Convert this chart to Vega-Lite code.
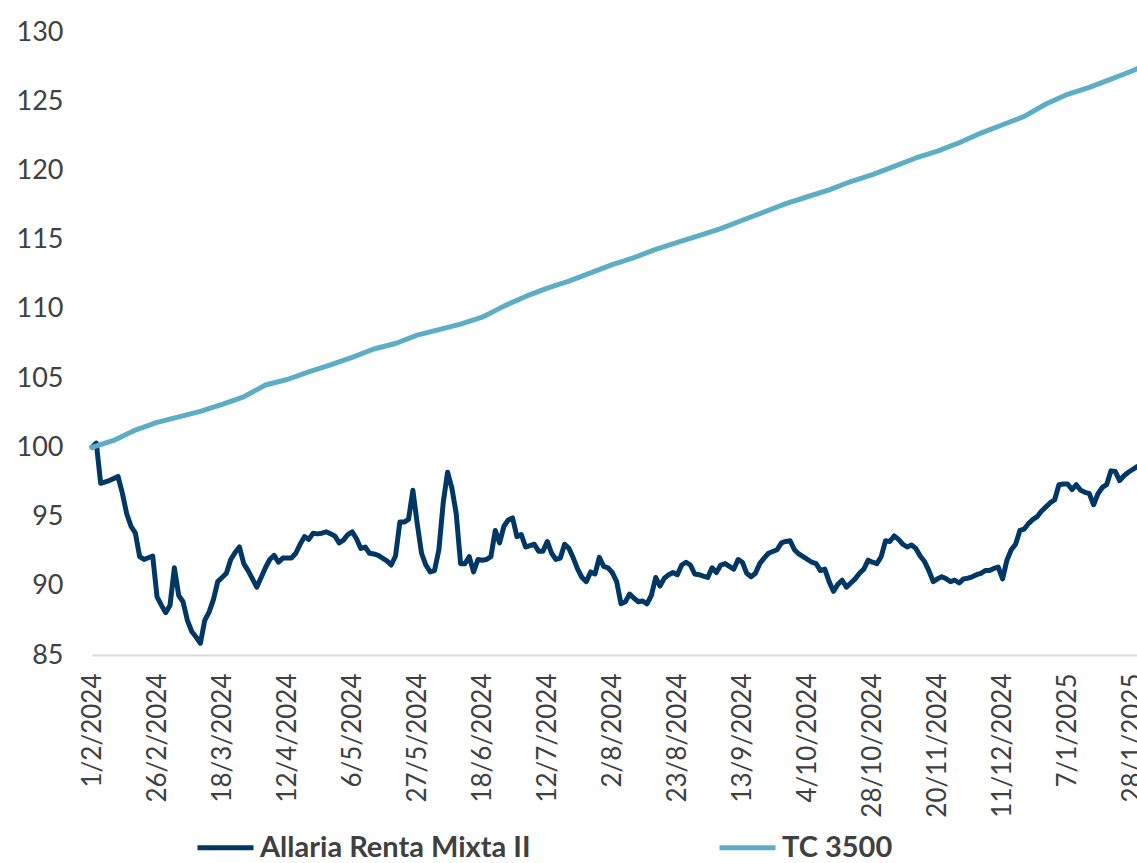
{
  "$schema": "https://vega.github.io/schema/vega-lite/v6.json",
  "width": 1045,
  "height": 623,
  "autosize": {"type": "none"},
  "padding": {"left": 92, "top": 32, "right": 0, "bottom": 208},
  "background": "white",
  "config": {"view": {"stroke": null}, "font": "Lato"},
  "data": {"values": [
{"s":"Allaria Renta Mixta II","i":0,"v":100.0},{"s":"Allaria Renta Mixta II","i":1,"v":100.3},{"s":"Allaria Renta Mixta II","i":2,"v":97.4},{"s":"Allaria Renta Mixta II","i":4,"v":97.6},{"s":"Allaria Renta Mixta II","i":6,"v":97.9},{"s":"Allaria Renta Mixta II","i":7,"v":96.7},{"s":"Allaria Renta Mixta II","i":8,"v":95.2},{"s":"Allaria Renta Mixta II","i":9,"v":94.3},{"s":"Allaria Renta Mixta II","i":10,"v":93.8},{"s":"Allaria Renta Mixta II","i":11,"v":92.1},{"s":"Allaria Renta Mixta II","i":12,"v":91.9},{"s":"Allaria Renta Mixta II","i":14,"v":92.15},{"s":"Allaria Renta Mixta II","i":15,"v":89.2},{"s":"Allaria Renta Mixta II","i":16,"v":88.6},{"s":"Allaria Renta Mixta II","i":17,"v":88.06},{"s":"Allaria Renta Mixta II","i":18,"v":88.6},{"s":"Allaria Renta Mixta II","i":19,"v":91.3},{"s":"Allaria Renta Mixta II","i":20,"v":89.3},{"s":"Allaria Renta Mixta II","i":21,"v":88.85},{"s":"Allaria Renta Mixta II","i":22,"v":87.5},{"s":"Allaria Renta Mixta II","i":23,"v":86.7},{"s":"Allaria Renta Mixta II","i":24,"v":86.3},{"s":"Allaria Renta Mixta II","i":25,"v":85.85},{"s":"Allaria Renta Mixta II","i":26,"v":87.5},{"s":"Allaria Renta Mixta II","i":27,"v":88.1},{"s":"Allaria Renta Mixta II","i":28,"v":89.0},{"s":"Allaria Renta Mixta II","i":29,"v":90.3},{"s":"Allaria Renta Mixta II","i":30,"v":90.6},{"s":"Allaria Renta Mixta II","i":31,"v":90.9},{"s":"Allaria Renta Mixta II","i":32,"v":91.9},{"s":"Allaria Renta Mixta II","i":33,"v":92.4},{"s":"Allaria Renta Mixta II","i":34,"v":92.8},{"s":"Allaria Renta Mixta II","i":35,"v":91.6},{"s":"Allaria Renta Mixta II","i":36,"v":91.1},{"s":"Allaria Renta Mixta II","i":37,"v":90.5},{"s":"Allaria Renta Mixta II","i":38,"v":89.9},{"s":"Allaria Renta Mixta II","i":39,"v":90.6},{"s":"Allaria Renta Mixta II","i":40,"v":91.3},{"s":"Allaria Renta Mixta II","i":41,"v":91.9},{"s":"Allaria Renta Mixta II","i":42,"v":92.2},{"s":"Allaria Renta Mixta II","i":43,"v":91.7},{"s":"Allaria Renta Mixta II","i":44,"v":92.0},{"s":"Allaria Renta Mixta II","i":45,"v":92.0},{"s":"Allaria Renta Mixta II","i":46,"v":92.0},{"s":"Allaria Renta Mixta II","i":47,"v":92.35},{"s":"Allaria Renta Mixta II","i":48,"v":93.0},{"s":"Allaria Renta Mixta II","i":49,"v":93.55},{"s":"Allaria Renta Mixta II","i":50,"v":93.35},{"s":"Allaria Renta Mixta II","i":51,"v":93.8},{"s":"Allaria Renta Mixta II","i":52,"v":93.75},{"s":"Allaria Renta Mixta II","i":53,"v":93.8},{"s":"Allaria Renta Mixta II","i":54,"v":93.9},{"s":"Allaria Renta Mixta II","i":55,"v":93.75},{"s":"Allaria Renta Mixta II","i":56,"v":93.6},{"s":"Allaria Renta Mixta II","i":57,"v":93.1},{"s":"Allaria Renta Mixta II","i":58,"v":93.3},{"s":"Allaria Renta Mixta II","i":59,"v":93.7},{"s":"Allaria Renta Mixta II","i":60,"v":93.9},{"s":"Allaria Renta Mixta II","i":61,"v":93.4},{"s":"Allaria Renta Mixta II","i":62,"v":92.7},{"s":"Allaria Renta Mixta II","i":63,"v":92.8},{"s":"Allaria Renta Mixta II","i":64,"v":92.35},{"s":"Allaria Renta Mixta II","i":65,"v":92.3},{"s":"Allaria Renta Mixta II","i":66,"v":92.2},{"s":"Allaria Renta Mixta II","i":67,"v":92.0},{"s":"Allaria Renta Mixta II","i":68,"v":91.8},{"s":"Allaria Renta Mixta II","i":69,"v":91.5},{"s":"Allaria Renta Mixta II","i":70,"v":92.15},{"s":"Allaria Renta Mixta II","i":71,"v":94.6},{"s":"Allaria Renta Mixta II","i":72,"v":94.6},{"s":"Allaria Renta Mixta II","i":73,"v":94.8},{"s":"Allaria Renta Mixta II","i":74,"v":96.9},{"s":"Allaria Renta Mixta II","i":75,"v":94.5},{"s":"Allaria Renta Mixta II","i":76,"v":92.35},{"s":"Allaria Renta Mixta II","i":77,"v":91.5},{"s":"Allaria Renta Mixta II","i":78,"v":91.0},{"s":"Allaria Renta Mixta II","i":79,"v":91.1},{"s":"Allaria Renta Mixta II","i":80,"v":92.6},{"s":"Allaria Renta Mixta II","i":81,"v":96.0},{"s":"Allaria Renta Mixta II","i":82,"v":98.2},{"s":"Allaria Renta Mixta II","i":83,"v":97.05},{"s":"Allaria Renta Mixta II","i":84,"v":95.2},{"s":"Allaria Renta Mixta II","i":85,"v":91.6},{"s":"Allaria Renta Mixta II","i":86,"v":91.6},{"s":"Allaria Renta Mixta II","i":87,"v":92.1},{"s":"Allaria Renta Mixta II","i":88,"v":91.0},{"s":"Allaria Renta Mixta II","i":89,"v":91.9},{"s":"Allaria Renta Mixta II","i":90,"v":91.85},{"s":"Allaria Renta Mixta II","i":91,"v":91.9},{"s":"Allaria Renta Mixta II","i":92,"v":92.1},{"s":"Allaria Renta Mixta II","i":93,"v":94.0},{"s":"Allaria Renta Mixta II","i":94,"v":93.1},{"s":"Allaria Renta Mixta II","i":95,"v":94.3},{"s":"Allaria Renta Mixta II","i":96,"v":94.75},{"s":"Allaria Renta Mixta II","i":97,"v":94.9},{"s":"Allaria Renta Mixta II","i":98,"v":93.55},{"s":"Allaria Renta Mixta II","i":99,"v":93.7},{"s":"Allaria Renta Mixta II","i":100,"v":92.8},{"s":"Allaria Renta Mixta II","i":101,"v":92.9},{"s":"Allaria Renta Mixta II","i":102,"v":93.0},{"s":"Allaria Renta Mixta II","i":103,"v":92.5},{"s":"Allaria Renta Mixta II","i":104,"v":92.5},{"s":"Allaria Renta Mixta II","i":105,"v":93.2},{"s":"Allaria Renta Mixta II","i":106,"v":92.35},{"s":"Allaria Renta Mixta II","i":107,"v":91.9},{"s":"Allaria Renta Mixta II","i":108,"v":92.0},{"s":"Allaria Renta Mixta II","i":109,"v":93.0},{"s":"Allaria Renta Mixta II","i":110,"v":92.7},{"s":"Allaria Renta Mixta II","i":111,"v":92.0},{"s":"Allaria Renta Mixta II","i":112,"v":91.2},{"s":"Allaria Renta Mixta II","i":113,"v":90.6},{"s":"Allaria Renta Mixta II","i":114,"v":90.3},{"s":"Allaria Renta Mixta II","i":115,"v":91.0},{"s":"Allaria Renta Mixta II","i":116,"v":90.85},{"s":"Allaria Renta Mixta II","i":117,"v":92.05},{"s":"Allaria Renta Mixta II","i":118,"v":91.4},{"s":"Allaria Renta Mixta II","i":119,"v":91.3},{"s":"Allaria Renta Mixta II","i":120,"v":90.95},{"s":"Allaria Renta Mixta II","i":121,"v":90.3},{"s":"Allaria Renta Mixta II","i":122,"v":88.7},{"s":"Allaria Renta Mixta II","i":123,"v":88.85},{"s":"Allaria Renta Mixta II","i":124,"v":89.4},{"s":"Allaria Renta Mixta II","i":125,"v":89.1},{"s":"Allaria Renta Mixta II","i":126,"v":88.85},{"s":"Allaria Renta Mixta II","i":127,"v":88.9},{"s":"Allaria Renta Mixta II","i":128,"v":88.7},{"s":"Allaria Renta Mixta II","i":129,"v":89.3},{"s":"Allaria Renta Mixta II","i":130,"v":90.6},{"s":"Allaria Renta Mixta II","i":131,"v":89.98},{"s":"Allaria Renta Mixta II","i":132,"v":90.55},{"s":"Allaria Renta Mixta II","i":133,"v":90.8},{"s":"Allaria Renta Mixta II","i":134,"v":90.95},{"s":"Allaria Renta Mixta II","i":135,"v":90.8},{"s":"Allaria Renta Mixta II","i":136,"v":91.5},{"s":"Allaria Renta Mixta II","i":137,"v":91.7},{"s":"Allaria Renta Mixta II","i":138,"v":91.5},{"s":"Allaria Renta Mixta II","i":139,"v":90.85},{"s":"Allaria Renta Mixta II","i":140,"v":90.8},{"s":"Allaria Renta Mixta II","i":141,"v":90.7},{"s":"Allaria Renta Mixta II","i":142,"v":90.6},{"s":"Allaria Renta Mixta II","i":143,"v":91.3},{"s":"Allaria Renta Mixta II","i":144,"v":90.95},{"s":"Allaria Renta Mixta II","i":145,"v":91.5},{"s":"Allaria Renta Mixta II","i":146,"v":91.6},{"s":"Allaria Renta Mixta II","i":147,"v":91.4},{"s":"Allaria Renta Mixta II","i":148,"v":91.2},{"s":"Allaria Renta Mixta II","i":149,"v":91.9},{"s":"Allaria Renta Mixta II","i":150,"v":91.7},{"s":"Allaria Renta Mixta II","i":151,"v":90.9},{"s":"Allaria Renta Mixta II","i":152,"v":90.65},{"s":"Allaria Renta Mixta II","i":153,"v":90.9},{"s":"Allaria Renta Mixta II","i":154,"v":91.6},{"s":"Allaria Renta Mixta II","i":155,"v":92.0},{"s":"Allaria Renta Mixta II","i":156,"v":92.35},{"s":"Allaria Renta Mixta II","i":158,"v":92.6},{"s":"Allaria Renta Mixta II","i":159,"v":93.1},{"s":"Allaria Renta Mixta II","i":160,"v":93.2},{"s":"Allaria Renta Mixta II","i":161,"v":93.25},{"s":"Allaria Renta Mixta II","i":162,"v":92.6},{"s":"Allaria Renta Mixta II","i":163,"v":92.3},{"s":"Allaria Renta Mixta II","i":164,"v":92.1},{"s":"Allaria Renta Mixta II","i":166,"v":91.7},{"s":"Allaria Renta Mixta II","i":167,"v":91.6},{"s":"Allaria Renta Mixta II","i":168,"v":91.1},{"s":"Allaria Renta Mixta II","i":169,"v":91.2},{"s":"Allaria Renta Mixta II","i":170,"v":90.3},{"s":"Allaria Renta Mixta II","i":171,"v":89.6},{"s":"Allaria Renta Mixta II","i":172,"v":90.1},{"s":"Allaria Renta Mixta II","i":173,"v":90.4},{"s":"Allaria Renta Mixta II","i":174,"v":89.9},{"s":"Allaria Renta Mixta II","i":175,"v":90.2},{"s":"Allaria Renta Mixta II","i":176,"v":90.5},{"s":"Allaria Renta Mixta II","i":177,"v":90.9},{"s":"Allaria Renta Mixta II","i":178,"v":91.2},{"s":"Allaria Renta Mixta II","i":179,"v":91.85},{"s":"Allaria Renta Mixta II","i":180,"v":91.7},{"s":"Allaria Renta Mixta II","i":181,"v":91.6},{"s":"Allaria Renta Mixta II","i":182,"v":92.1},{"s":"Allaria Renta Mixta II","i":183,"v":93.25},{"s":"Allaria Renta Mixta II","i":184,"v":93.2},{"s":"Allaria Renta Mixta II","i":185,"v":93.6},{"s":"Allaria Renta Mixta II","i":186,"v":93.35},{"s":"Allaria Renta Mixta II","i":187,"v":93.0},{"s":"Allaria Renta Mixta II","i":188,"v":92.8},{"s":"Allaria Renta Mixta II","i":189,"v":92.95},{"s":"Allaria Renta Mixta II","i":190,"v":92.7},{"s":"Allaria Renta Mixta II","i":191,"v":92.15},{"s":"Allaria Renta Mixta II","i":192,"v":91.75},{"s":"Allaria Renta Mixta II","i":193,"v":91.1},{"s":"Allaria Renta Mixta II","i":194,"v":90.3},{"s":"Allaria Renta Mixta II","i":195,"v":90.5},{"s":"Allaria Renta Mixta II","i":196,"v":90.65},{"s":"Allaria Renta Mixta II","i":197,"v":90.5},{"s":"Allaria Renta Mixta II","i":198,"v":90.3},{"s":"Allaria Renta Mixta II","i":199,"v":90.4},{"s":"Allaria Renta Mixta II","i":200,"v":90.2},{"s":"Allaria Renta Mixta II","i":201,"v":90.5},{"s":"Allaria Renta Mixta II","i":202,"v":90.55},{"s":"Allaria Renta Mixta II","i":203,"v":90.65},{"s":"Allaria Renta Mixta II","i":204,"v":90.8},{"s":"Allaria Renta Mixta II","i":205,"v":90.9},{"s":"Allaria Renta Mixta II","i":206,"v":91.1},{"s":"Allaria Renta Mixta II","i":207,"v":91.1},{"s":"Allaria Renta Mixta II","i":208,"v":91.25},{"s":"Allaria Renta Mixta II","i":209,"v":91.35},{"s":"Allaria Renta Mixta II","i":210,"v":90.5},{"s":"Allaria Renta Mixta II","i":211,"v":91.85},{"s":"Allaria Renta Mixta II","i":212,"v":92.6},{"s":"Allaria Renta Mixta II","i":213,"v":93.0},{"s":"Allaria Renta Mixta II","i":214,"v":94.0},{"s":"Allaria Renta Mixta II","i":215,"v":94.1},{"s":"Allaria Renta Mixta II","i":216,"v":94.5},{"s":"Allaria Renta Mixta II","i":217,"v":94.8},{"s":"Allaria Renta Mixta II","i":218,"v":95.0},{"s":"Allaria Renta Mixta II","i":219,"v":95.4},{"s":"Allaria Renta Mixta II","i":220,"v":95.7},{"s":"Allaria Renta Mixta II","i":221,"v":96.0},{"s":"Allaria Renta Mixta II","i":222,"v":96.2},{"s":"Allaria Renta Mixta II","i":223,"v":97.3},{"s":"Allaria Renta Mixta II","i":224,"v":97.35},{"s":"Allaria Renta Mixta II","i":225,"v":97.35},{"s":"Allaria Renta Mixta II","i":226,"v":96.95},{"s":"Allaria Renta Mixta II","i":227,"v":97.3},{"s":"Allaria Renta Mixta II","i":228,"v":96.9},{"s":"Allaria Renta Mixta II","i":229,"v":96.75},{"s":"Allaria Renta Mixta II","i":230,"v":96.65},{"s":"Allaria Renta Mixta II","i":231,"v":95.85},{"s":"Allaria Renta Mixta II","i":232,"v":96.65},{"s":"Allaria Renta Mixta II","i":233,"v":97.1},{"s":"Allaria Renta Mixta II","i":234,"v":97.3},{"s":"Allaria Renta Mixta II","i":235,"v":98.3},{"s":"Allaria Renta Mixta II","i":236,"v":98.25},{"s":"Allaria Renta Mixta II","i":237,"v":97.6},{"s":"Allaria Renta Mixta II","i":238,"v":97.95},{"s":"Allaria Renta Mixta II","i":239,"v":98.2},{"s":"Allaria Renta Mixta II","i":240,"v":98.4},{"s":"Allaria Renta Mixta II","i":241,"v":98.6},
{"s":"TC 3500","i":0,"v":100.0},{"s":"TC 3500","i":5,"v":100.5},{"s":"TC 3500","i":10,"v":101.25},{"s":"TC 3500","i":15,"v":101.8},{"s":"TC 3500","i":20,"v":102.2},{"s":"TC 3500","i":25,"v":102.6},{"s":"TC 3500","i":30,"v":103.1},{"s":"TC 3500","i":35,"v":103.65},{"s":"TC 3500","i":40,"v":104.5},{"s":"TC 3500","i":45,"v":104.9},{"s":"TC 3500","i":50,"v":105.45},{"s":"TC 3500","i":55,"v":105.95},{"s":"TC 3500","i":60,"v":106.5},{"s":"TC 3500","i":65,"v":107.1},{"s":"TC 3500","i":70,"v":107.5},{"s":"TC 3500","i":75,"v":108.1},{"s":"TC 3500","i":80,"v":108.5},{"s":"TC 3500","i":85,"v":108.9},{"s":"TC 3500","i":90,"v":109.4},{"s":"TC 3500","i":95,"v":110.2},{"s":"TC 3500","i":100,"v":110.9},{"s":"TC 3500","i":105,"v":111.5},{"s":"TC 3500","i":110,"v":112.0},{"s":"TC 3500","i":115,"v":112.6},{"s":"TC 3500","i":120,"v":113.2},{"s":"TC 3500","i":125,"v":113.7},{"s":"TC 3500","i":130,"v":114.3},{"s":"TC 3500","i":135,"v":114.8},{"s":"TC 3500","i":140,"v":115.3},{"s":"TC 3500","i":145,"v":115.8},{"s":"TC 3500","i":150,"v":116.4},{"s":"TC 3500","i":155,"v":117.0},{"s":"TC 3500","i":160,"v":117.6},{"s":"TC 3500","i":165,"v":118.1},{"s":"TC 3500","i":170,"v":118.6},{"s":"TC 3500","i":175,"v":119.2},{"s":"TC 3500","i":180,"v":119.7},{"s":"TC 3500","i":185,"v":120.3},{"s":"TC 3500","i":190,"v":120.9},{"s":"TC 3500","i":195,"v":121.4},{"s":"TC 3500","i":200,"v":122.0},{"s":"TC 3500","i":205,"v":122.7},{"s":"TC 3500","i":210,"v":123.3},{"s":"TC 3500","i":215,"v":123.9},{"s":"TC 3500","i":220,"v":124.8},{"s":"TC 3500","i":225,"v":125.5},{"s":"TC 3500","i":230,"v":126.0},{"s":"TC 3500","i":235,"v":126.6},{"s":"TC 3500","i":240,"v":127.2},{"s":"TC 3500","i":241,"v":127.35}
  ]},
  "mark": {"type": "line", "strokeWidth": 5, "strokeCap": "round", "strokeJoin": "round"},
  "encoding": {
    "x": {
      "field": "i", "type": "quantitative",
      "scale": {"domain": [0, 241], "nice": false, "zero": false},
      "axis": {
        "title": null,
        "values": [0,15,30,45,60,75,90,105,120,135,150,165,180,195,210,225,240],
        "labelExpr": "['1/2/2024','26/2/2024','18/3/2024','12/4/2024','6/5/2024','27/5/2024','18/6/2024','12/7/2024','2/8/2024','23/8/2024','13/9/2024','4/10/2024','28/10/2024','20/11/2024','11/12/2024','7/1/2025','28/1/2025'][round(datum.value/15)]",
        "labelAngle": -90,
        "labelAlign": "right",
        "labelBaseline": "middle",
        "labelFontSize": 26,
        "labelColor": "#404040",
        "labelPadding": 18,
        "labelOverlap": false,
        "labelFlush": false,
        "ticks": false,
        "grid": false,
        "domainColor": "#D9D9D9",
        "domainWidth": 2
      }
    },
    "y": {
      "field": "v", "type": "quantitative",
      "scale": {"domain": [85, 130], "nice": false, "zero": false},
      "axis": {
        "title": null,
        "values": [85,90,95,100,105,110,115,120,125,130],
        "labelFontSize": 27,
        "labelColor": "#404040",
        "labelPadding": 29,
        "ticks": false,
        "grid": false,
        "domain": false
      }
    },
    "color": {
      "field": "s", "type": "nominal",
      "scale": {"domain": ["Allaria Renta Mixta II", "TC 3500"], "range": ["#003764", "#5DAEC4"]},
      "legend": {
        "title": null,
        "orient": "none",
        "legendX": 103,
        "legendY": 785,
        "direction": "horizontal",
        "symbolType": "stroke",
        "symbolSize": 3136,
        "symbolStrokeWidth": 5,
        "labelFontSize": 29,
        "labelFontWeight": "bold",
        "labelColor": "#404040",
        "labelLimit": 500,
        "labelOffset": 4,
        "columnPadding": 178
      }
    }
  }
}
